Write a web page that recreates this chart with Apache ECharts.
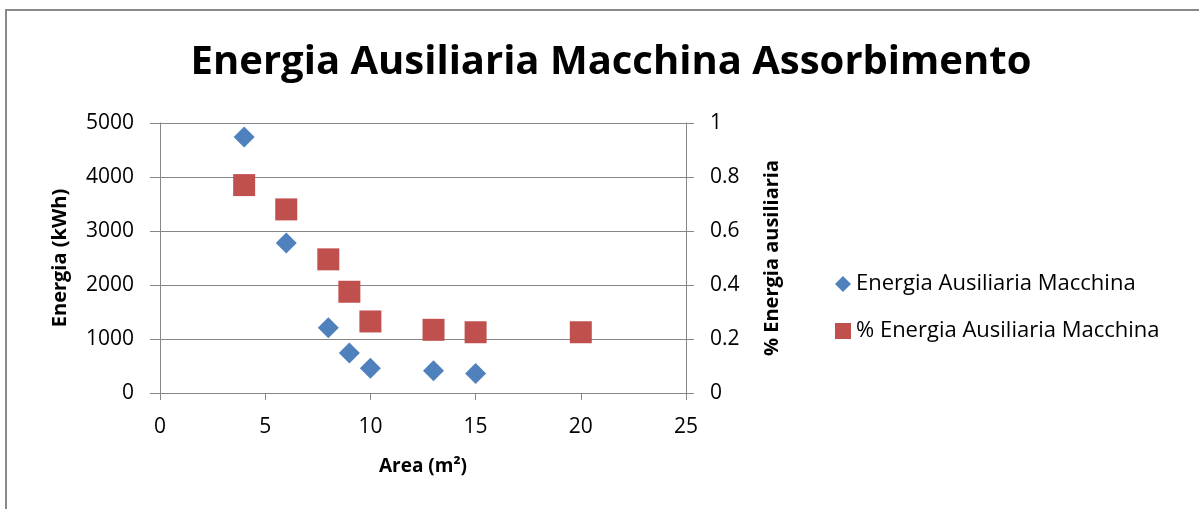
<!DOCTYPE html>
<html>
<head>
<meta charset="utf-8">
<script src="https://cdn.jsdelivr.net/npm/echarts@6/dist/echarts.min.js"></script>
<style>
  html, body { margin: 0; padding: 0; background: #fff; }
  #chart { width: 1199px; height: 509px; }
</style>
</head>
<body>
<div id="chart"></div>
<script>
// area (m2) for each run
const areaEnergia = [4, 6, 8, 9, 10, 13, 15];
const energiaKwh = [4740, 2780, 1210, 740, 460, 410, 360];

const areaPerc = [4, 6, 8, 9, 10, 13, 15, 20];
const percEnergia = [0.77, 0.68, 0.495, 0.375, 0.265, 0.234, 0.225, 0.225];

const seriesNames = ["Energia Ausiliaria Macchina", "% Energia Ausiliaria Macchina"];

const font = "Open Sans";
const gridColor = "#868686";

const chart = echarts.init(document.getElementById("chart"), null, { renderer: "canvas" });

chart.setOption({
  animation: false,
  backgroundColor: "#fff",
  graphic: [
    {
      type: "rect",
      shape: { x: 6, y: 10, width: 1300, height: 600 },
      style: { fill: "none", stroke: "#8a8a8a", lineWidth: 2 },
      silent: true,
    },
  ],
  title: {
    text: "Energia Ausiliaria Macchina Assorbimento",
    left: 606,
    top: 38,
    textAlign: "center",
    textStyle: { fontFamily: font, fontWeight: "bold", fontSize: 40, color: "#000" },
  },
  legend: {
    orient: "vertical",
    left: 830,
    top: 268,
    itemGap: 25,
    itemWidth: 16,
    itemHeight: 16,
    textStyle: { fontFamily: font, fontSize: 22, color: "#000" },
    data: [
      { name: seriesNames[0], icon: "diamond" },
      { name: seriesNames[1], icon: "rect" },
    ],
  },
  grid: { left: 160, right: 513, top: 123, bottom: 116 },
  xAxis: {
    type: "value",
    min: 0,
    max: 25,
    interval: 5,
    name: "Area (m²)",
    nameLocation: "middle",
    nameGap: 64,
    nameTextStyle: { fontFamily: font, fontWeight: "bold", fontSize: 19, color: "#000" },
    axisLine: { show: true, onZero: false, lineStyle: { color: gridColor } },
    axisTick: { show: true, length: 7, lineStyle: { color: gridColor } },
    axisLabel: { margin: 24, fontFamily: font, fontSize: 21, color: "#000" },
    splitLine: { show: false },
  },
  yAxis: [
    {
      type: "value",
      min: 0,
      max: 5000,
      interval: 1000,
      name: "Energia (kWh)",
      nameLocation: "middle",
      nameRotate: 90,
      nameGap: 90,
      nameTextStyle: { fontFamily: font, fontWeight: "bold", fontSize: 20, color: "#000" },
      axisLine: { show: true, lineStyle: { color: gridColor } },
      axisTick: { show: true, length: 10, lineStyle: { color: gridColor } },
      axisLabel: { margin: 26, fontFamily: font, fontSize: 21, color: "#000", formatter: (v) => String(v) },
      splitLine: { show: true, lineStyle: { color: gridColor, width: 1 } },
    },
    {
      type: "value",
      position: "right",
      min: 0,
      max: 1,
      interval: 0.2,
      name: "% Energia ausiliaria",
      nameLocation: "middle",
      nameRotate: 90,
      nameGap: 76,
      nameTextStyle: { fontFamily: font, fontWeight: "bold", fontSize: 20, color: "#000" },
      axisLine: { show: true, lineStyle: { color: gridColor } },
      axisTick: { show: true, length: 8, lineStyle: { color: gridColor } },
      axisLabel: { margin: 24, fontFamily: font, fontSize: 21, color: "#000" },
      splitLine: { show: false },
    },
  ],
  series: [
    {
      name: seriesNames[0],
      type: "scatter",
      yAxisIndex: 0,
      symbol: "diamond",
      symbolSize: 21,
      itemStyle: { color: "#4F81BD", opacity: 1 },
      data: areaEnergia.map((a, i) => [a, energiaKwh[i]]),
      z: 3,
    },
    {
      name: seriesNames[1],
      type: "scatter",
      yAxisIndex: 1,
      symbol: "rect",
      symbolSize: 22,
      itemStyle: { color: "#C0504D", opacity: 1 },
      data: areaPerc.map((a, i) => [a, percEnergia[i]]),
      z: 2,
    },
  ],
});
</script>
</body>
</html>
